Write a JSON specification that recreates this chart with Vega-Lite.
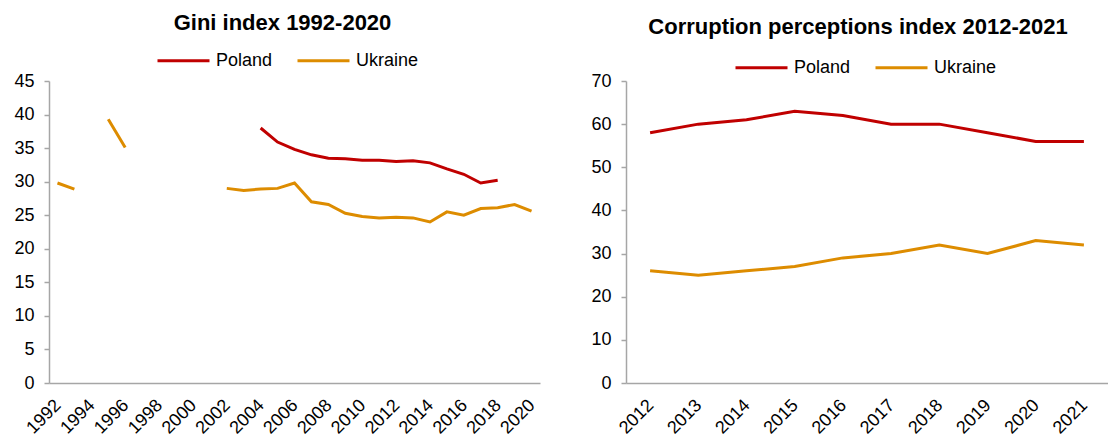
{
  "$schema": "https://vega.github.io/schema/vega-lite/v6.json",
  "padding": {"left": 13, "top": 11, "right": 0, "bottom": 0},
  "background": "white",
  "bounds": "flush",
  "config": {
    "font": "Liberation Sans",
    "view": {"stroke": null},
    "axis": {"labelFont": "Liberation Sans", "labelFontSize": 18, "labelColor": "#000000", "domainColor": "#A6A6A6", "domainWidth": 1.5, "tickColor": "#A6A6A6", "tickWidth": 1.5, "tickSize": 5, "grid": false, "title": null},
    "title": {"font": "Liberation Sans", "fontSize": 22, "fontWeight": "bold", "color": "#000000", "frame": "group"},
    "legend": {"labelFont": "Liberation Sans", "labelFontSize": 18, "labelColor": "#000000"}
  },
  "datasets": {
    "gini": [
      {"year": 1992, "country": "Ukraine", "value": 29.8},
      {"year": 1993, "country": "Ukraine", "value": 28.9},
      {"year": 1994, "country": "Ukraine", "value": null},
      {"year": 1995, "country": "Ukraine", "value": 39.3},
      {"year": 1996, "country": "Ukraine", "value": 35.1},
      {"year": 1997, "country": "Ukraine", "value": null},
      {"year": 1998, "country": "Ukraine", "value": null},
      {"year": 1999, "country": "Ukraine", "value": null},
      {"year": 2000, "country": "Ukraine", "value": null},
      {"year": 2001, "country": "Ukraine", "value": null},
      {"year": 2002, "country": "Ukraine", "value": 29.0},
      {"year": 2003, "country": "Ukraine", "value": 28.7},
      {"year": 2004, "country": "Ukraine", "value": 28.9},
      {"year": 2005, "country": "Ukraine", "value": 29.0},
      {"year": 2006, "country": "Ukraine", "value": 29.8},
      {"year": 2007, "country": "Ukraine", "value": 27.0},
      {"year": 2008, "country": "Ukraine", "value": 26.6},
      {"year": 2009, "country": "Ukraine", "value": 25.3},
      {"year": 2010, "country": "Ukraine", "value": 24.8},
      {"year": 2011, "country": "Ukraine", "value": 24.6},
      {"year": 2012, "country": "Ukraine", "value": 24.7},
      {"year": 2013, "country": "Ukraine", "value": 24.6},
      {"year": 2014, "country": "Ukraine", "value": 24.0},
      {"year": 2015, "country": "Ukraine", "value": 25.5},
      {"year": 2016, "country": "Ukraine", "value": 25.0},
      {"year": 2017, "country": "Ukraine", "value": 26.0},
      {"year": 2018, "country": "Ukraine", "value": 26.1},
      {"year": 2019, "country": "Ukraine", "value": 26.6},
      {"year": 2020, "country": "Ukraine", "value": 25.6},
      {"year": 2004, "country": "Poland", "value": 38.0},
      {"year": 2005, "country": "Poland", "value": 35.9},
      {"year": 2006, "country": "Poland", "value": 34.8},
      {"year": 2007, "country": "Poland", "value": 34.0},
      {"year": 2008, "country": "Poland", "value": 33.5},
      {"year": 2009, "country": "Poland", "value": 33.4},
      {"year": 2010, "country": "Poland", "value": 33.2},
      {"year": 2011, "country": "Poland", "value": 33.2},
      {"year": 2012, "country": "Poland", "value": 33.0},
      {"year": 2013, "country": "Poland", "value": 33.1},
      {"year": 2014, "country": "Poland", "value": 32.8},
      {"year": 2015, "country": "Poland", "value": 31.9},
      {"year": 2016, "country": "Poland", "value": 31.1},
      {"year": 2017, "country": "Poland", "value": 29.8},
      {"year": 2018, "country": "Poland", "value": 30.2}
    ],
    "cpi": [
      {"year": 2012, "country": "Poland", "value": 58},
      {"year": 2013, "country": "Poland", "value": 60},
      {"year": 2014, "country": "Poland", "value": 61},
      {"year": 2015, "country": "Poland", "value": 63},
      {"year": 2016, "country": "Poland", "value": 62},
      {"year": 2017, "country": "Poland", "value": 60},
      {"year": 2018, "country": "Poland", "value": 60},
      {"year": 2019, "country": "Poland", "value": 58},
      {"year": 2020, "country": "Poland", "value": 56},
      {"year": 2021, "country": "Poland", "value": 56},
      {"year": 2012, "country": "Ukraine", "value": 26},
      {"year": 2013, "country": "Ukraine", "value": 25},
      {"year": 2014, "country": "Ukraine", "value": 26},
      {"year": 2015, "country": "Ukraine", "value": 27},
      {"year": 2016, "country": "Ukraine", "value": 29},
      {"year": 2017, "country": "Ukraine", "value": 30},
      {"year": 2018, "country": "Ukraine", "value": 32},
      {"year": 2019, "country": "Ukraine", "value": 30},
      {"year": 2020, "country": "Ukraine", "value": 33},
      {"year": 2021, "country": "Ukraine", "value": 32}
    ]
  },
  "spacing": 86,
  "resolve": {"scale": {"color": "independent", "x": "independent", "y": "independent"}, "legend": {"color": "independent"}},
  "hconcat": [
    {
      "title": {"text": "Gini index 1992-2020", "dx": -12, "offset": -1.5},
      "width": 491,
      "height": 302,
      "data": {"name": "gini"},
      "mark": {"type": "line", "strokeWidth": 3},
      "encoding": {
        "x": {"field": "year", "type": "ordinal", "scale": {"domain": [1992,1993,1994,1995,1996,1997,1998,1999,2000,2001,2002,2003,2004,2005,2006,2007,2008,2009,2010,2011,2012,2013,2014,2015,2016,2017,2018,2019,2020], "padding": 0.5},
          "axis": {"values": [1992,1994,1996,1998,2000,2002,2004,2006,2008,2010,2012,2014,2016,2018,2020], "ticks": false, "labelAngle": -45, "labelAlign": "right", "labelBaseline": "top", "labelPadding": 13, "labelOffset": -6}},
        "y": {"field": "value", "type": "quantitative", "scale": {"domain": [0, 45], "nice": false}, "axis": {"values": [0,5,10,15,20,25,30,35,40,45], "labelPadding": 10}},
        "color": {"field": "country", "type": "nominal", "scale": {"domain": ["Poland", "Ukraine"], "range": ["#C00000", "#DD8C00"]},
          "legend": {"orient": "none", "legendX": 107, "legendY": -48, "direction": "horizontal", "title": null, "symbolType": "stroke", "symbolSize": 2704, "symbolStrokeWidth": 3, "columnPadding": 18, "labelOffset": 5}}
      }
    },
    {
      "title": {"text": "Corruption perceptions index 2012-2021", "dx": -9, "offset": 1.5},
      "width": 482,
      "height": 302,
      "data": {"name": "cpi"},
      "mark": {"type": "line", "strokeWidth": 3},
      "encoding": {
        "x": {"field": "year", "type": "ordinal", "scale": {"padding": 0.5},
          "axis": {"ticks": false, "labelAngle": -45, "labelAlign": "right", "labelBaseline": "top", "labelPadding": 13, "labelOffset": -6}},
        "y": {"field": "value", "type": "quantitative", "scale": {"domain": [0, 70], "nice": false}, "axis": {"values": [0,10,20,30,40,50,60,70], "labelPadding": 10}},
        "color": {"field": "country", "type": "nominal", "scale": {"domain": ["Poland", "Ukraine"], "range": ["#C00000", "#DD8C00"]},
          "legend": {"orient": "none", "legendX": 108, "legendY": -41, "direction": "horizontal", "title": null, "symbolType": "stroke", "symbolSize": 2704, "symbolStrokeWidth": 3, "columnPadding": 18, "labelOffset": 5}}
      }
    }
  ]
}
